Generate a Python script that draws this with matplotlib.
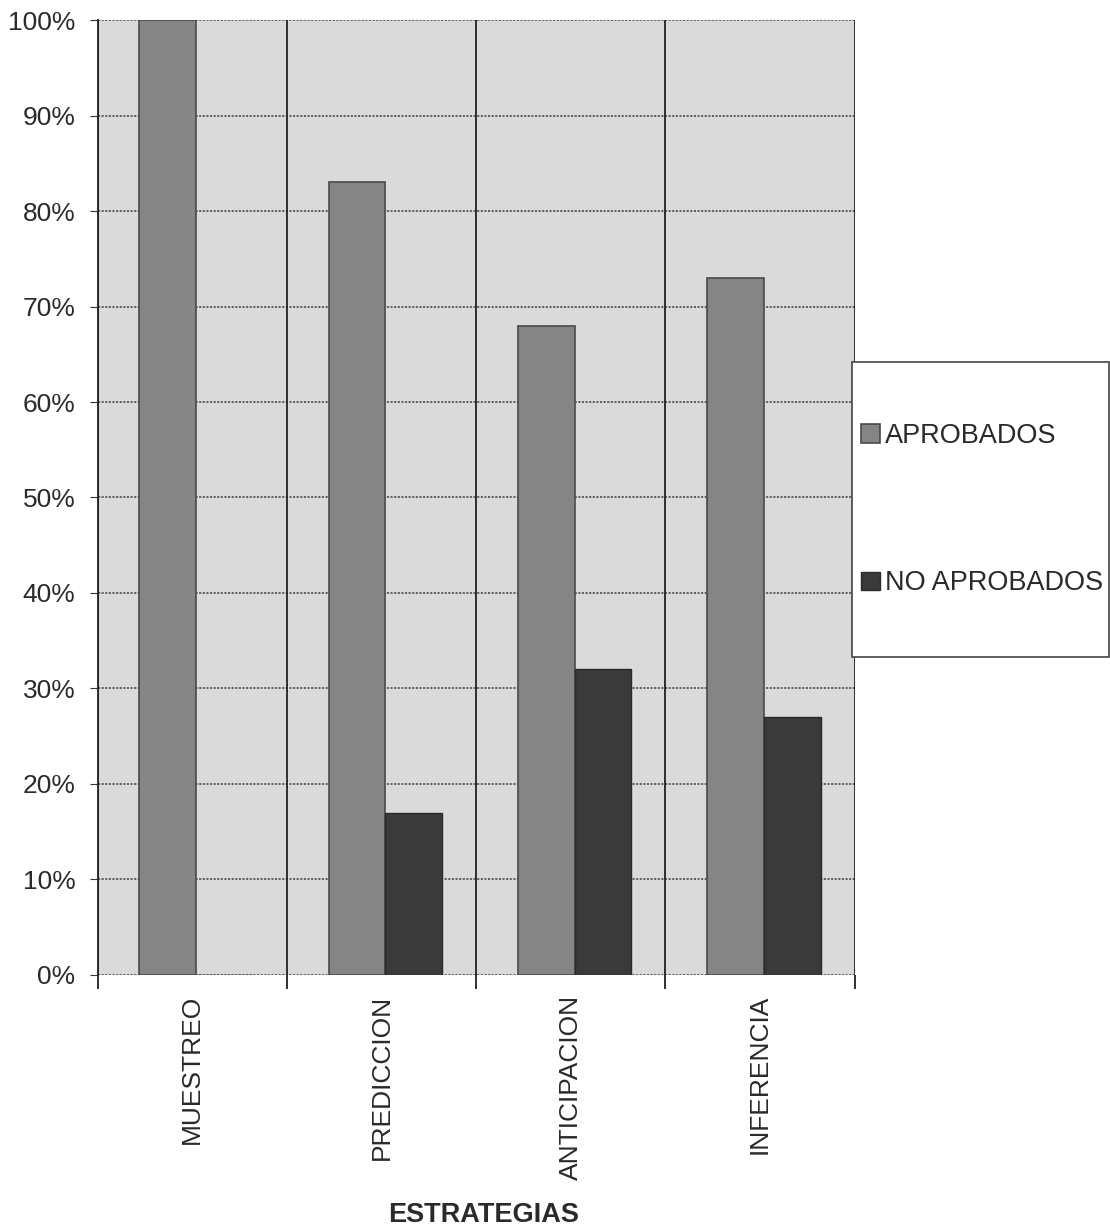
import numpy as np
import matplotlib.pyplot as plt
from matplotlib.patches import Rectangle
from matplotlib.ticker import PercentFormatter

plt.rcParams['font.family'] = ['Liberation Sans', 'DejaVu Sans']

# Data
estrategias = ["MUESTREO", "PREDICCION", "ANTICIPACION", "INFERENCIA"]
aprobados = [100, 83, 68, 73]
no_aprobados = [0, 17, 32, 27]
yticks = [0, 10, 20, 30, 40, 50, 60, 70, 80, 90, 100]

fig = plt.figure(figsize=(11.1, 12.29), dpi=100)
ax = fig.add_axes([0.088, 0.2067, 0.682, 0.777])
ax.set_facecolor("#dadada")

x = np.arange(len(estrategias))
w = 0.3

# gridlines
for v in yticks:
    ax.axhline(v, color="#5a5a5a", lw=1.3, ls=(0, (1.2, 0.8)), zorder=1)
for b in np.arange(len(estrategias) + 1) - 0.5:
    ax.axvline(b, color="#222222", lw=1.3, zorder=1)

b1 = ax.bar(x - w / 2 + 0.02, aprobados, w, color="#858585", edgecolor="#4a4a4a",
            lw=1.2, label="APROBADOS", zorder=3)
b2 = ax.bar(x + w / 2 + 0.02, no_aprobados, w, color="#3a3a3a", edgecolor="#2a2a2a",
            lw=1.0, label="NO APROBADOS", zorder=3)

ax.set_xlim(-0.5, len(estrategias) - 0.5)
ax.set_ylim(0, 100)
ax.set_yticks(yticks)
ax.yaxis.set_major_formatter(PercentFormatter(decimals=0))
ax.tick_params(axis="y", length=6, pad=10, labelsize=19, colors="#333333",
               labelcolor="#2a2a2a")

ax.set_xticks(x)
ax.set_xticklabels(estrategias, rotation=90, fontsize=19, color="#2a2a2a")
ax.tick_params(axis="x", length=0, pad=14)
ax.set_xticks(np.arange(len(estrategias) + 1) - 0.5, minor=True)
ax.tick_params(axis="x", which="minor", length=10, color="#222222", width=1.3)

for s in ["top", "right", "bottom"]:
    ax.spines[s].set_visible(False)
ax.spines["left"].set_color("#222222")
ax.spines["left"].set_linewidth(1.3)

fig.text(0.436, 0.006, "ESTRATEGIAS", ha="center", va="baseline",
         fontsize=19.5, fontweight="bold", color="#2a2a2a")

# legend box (drawn separately so it can be taller than its entries)
box = (0.768, 0.4654, 0.2315, 0.24)
fig.patches.append(Rectangle(box[:2], box[2], box[3], transform=fig.transFigure,
                             facecolor="white", edgecolor="#444444", lw=1.2,
                             zorder=0))
leg = fig.legend(handles=[b1, b2], loc="center left",
                 bbox_to_anchor=(0.768, 0.4654 + 0.12), borderaxespad=0,
                 fontsize=19.5, labelspacing=4.5, borderpad=0.3,
                 handlelength=0.7, handleheight=0.7, handletextpad=0.2,
                 frameon=False, labelcolor="#2a2a2a")

fig.savefig("out.png", dpi=100)
